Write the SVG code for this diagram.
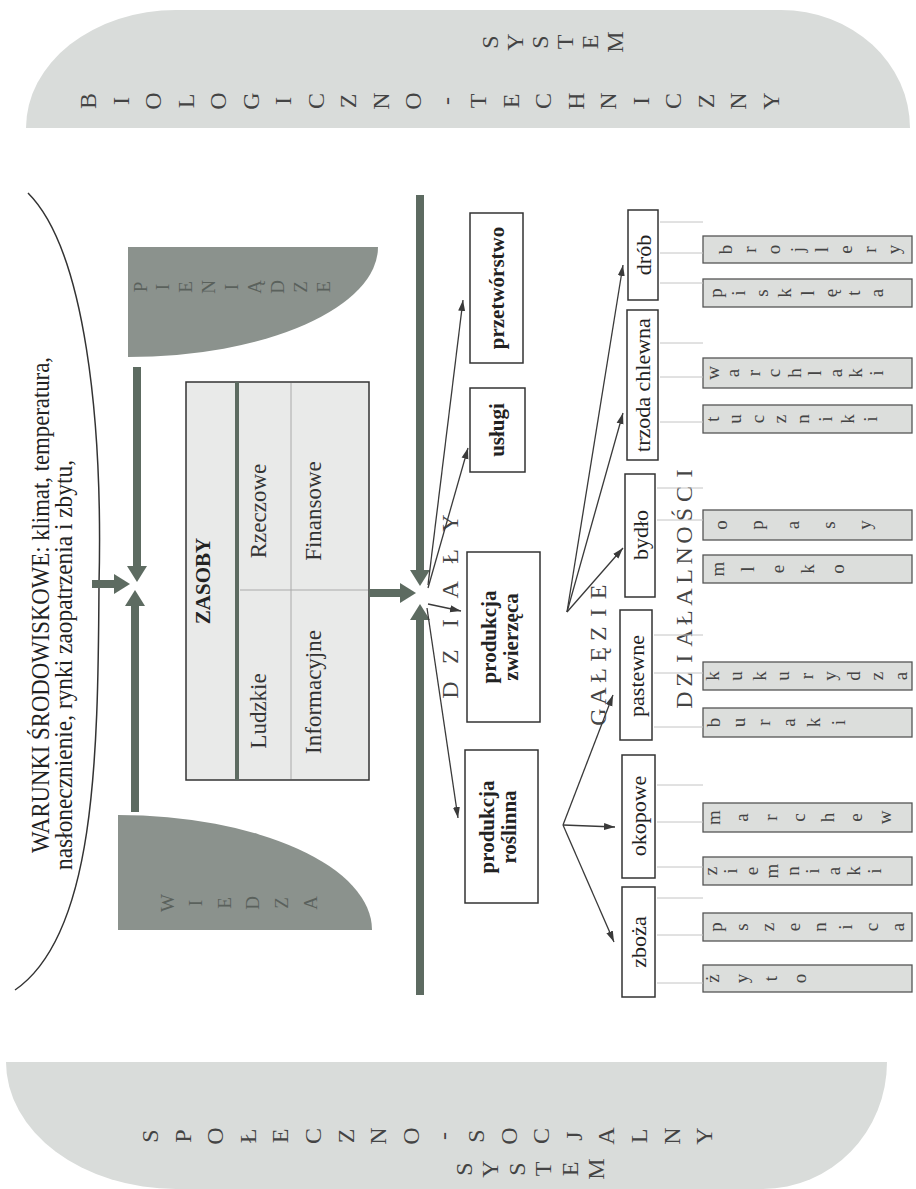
<svg xmlns="http://www.w3.org/2000/svg" width="916" height="1189" viewBox="0 0 916 1189">
<style>
text{font-family:"Liberation Serif","DejaVu Serif",serif;text-anchor:middle;dominant-baseline:central}
.band{fill:#d9dcda}
.dark{fill:#8b928d}
.sys{font-size:24px;fill:#444}
.dk{font-size:19px;fill:#5a615c}
.cap{font-size:24px;fill:#454545}
.prod{font-family:"Liberation Sans","DejaVu Sans",sans-serif;font-size:19px;fill:#444}
.pbox{fill:#dcdedc;stroke:#555;stroke-width:1.3}
.box{fill:#fff;stroke:#333;stroke-width:1.5}
.bl{font-size:21px;font-weight:bold;fill:#222}
.gl{font-size:22px;fill:#222}
.zl{font-size:23px;fill:#333}
.thick{stroke:#5d6b61;stroke-width:8;fill:none;marker-end:url(#th)}
.thin{stroke:#3a3a3a;stroke-width:1.3;fill:none;marker-end:url(#ta)}
.faint{stroke:#c4c4c4;stroke-width:1}
.war{font-size:25px;fill:#222;text-anchor:start;dominant-baseline:auto}
</style>
<defs>
<marker id="th" markerUnits="userSpaceOnUse" markerWidth="16" markerHeight="20" refX="0" refY="10" orient="auto"><path d="M0,0 L16,10 L0,20 Z" fill="#5d6b61"/></marker>
<marker id="ta" markerUnits="userSpaceOnUse" markerWidth="12" markerHeight="8" refX="11" refY="4" orient="auto"><path d="M0,0.5 L11,4 L0,7.5 Z" fill="#3a3a3a"/></marker>
</defs>

<g id="system-bio-tech">
<path class="band" d="M26,128 A150,118 0 0 1 176,10 L781,10 A129,118 0 0 1 910,128 Z"/>
<g class="sys">
<text transform="translate(490,42) rotate(-90)">S</text><text transform="translate(515,42) rotate(-90)">Y</text><text transform="translate(540,42) rotate(-90)">S</text><text transform="translate(565,42) rotate(-90)">T</text><text transform="translate(590,42) rotate(-90)">E</text><text transform="translate(615,42) rotate(-90)">M</text>
<text transform="translate(88,101) rotate(-90)">B</text><text transform="translate(120.5,101) rotate(-90)">I</text><text transform="translate(153,101) rotate(-90)">O</text><text transform="translate(185.5,101) rotate(-90)">L</text><text transform="translate(218,101) rotate(-90)">O</text><text transform="translate(250.5,101) rotate(-90)">G</text><text transform="translate(283,101) rotate(-90)">I</text><text transform="translate(315.5,101) rotate(-90)">C</text><text transform="translate(348,101) rotate(-90)">Z</text><text transform="translate(380.5,101) rotate(-90)">N</text><text transform="translate(413,101) rotate(-90)">O</text><text transform="translate(445.5,101) rotate(-90)">-</text><text transform="translate(478,101) rotate(-90)">T</text><text transform="translate(510.5,101) rotate(-90)">E</text><text transform="translate(543,101) rotate(-90)">C</text><text transform="translate(575.5,101) rotate(-90)">H</text><text transform="translate(608,101) rotate(-90)">N</text><text transform="translate(640.5,101) rotate(-90)">I</text><text transform="translate(673,101) rotate(-90)">C</text><text transform="translate(705.5,101) rotate(-90)">Z</text><text transform="translate(738,101) rotate(-90)">N</text><text transform="translate(770.5,101) rotate(-90)">Y</text>
</g>
</g>

<g id="system-spol-soc">
<path class="band" d="M6,1062 L887,1062 A124,127 0 0 1 763,1189 L176,1189 A170,127 0 0 1 6,1062 Z"/>
<g class="sys">
<text transform="translate(150,1136) rotate(-90)">S</text><text transform="translate(182.6,1136) rotate(-90)">P</text><text transform="translate(215.2,1136) rotate(-90)">O</text><text transform="translate(247.8,1136) rotate(-90)">Ł</text><text transform="translate(280.4,1136) rotate(-90)">E</text><text transform="translate(313,1136) rotate(-90)">C</text><text transform="translate(345.6,1136) rotate(-90)">Z</text><text transform="translate(378.2,1136) rotate(-90)">N</text><text transform="translate(410.8,1136) rotate(-90)">O</text><text transform="translate(443.4,1136) rotate(-90)">-</text><text transform="translate(476,1136) rotate(-90)">S</text><text transform="translate(508.6,1136) rotate(-90)">O</text><text transform="translate(541.2,1136) rotate(-90)">C</text><text transform="translate(573.8,1136) rotate(-90)">J</text><text transform="translate(606.4,1136) rotate(-90)">A</text><text transform="translate(639,1136) rotate(-90)">L</text><text transform="translate(671.6,1136) rotate(-90)">N</text><text transform="translate(704.2,1136) rotate(-90)">Y</text>
<text transform="translate(464,1169) rotate(-90)">S</text><text transform="translate(490.4,1169) rotate(-90)">Y</text><text transform="translate(516.8,1169) rotate(-90)">S</text><text transform="translate(543.2,1169) rotate(-90)">T</text><text transform="translate(569.6,1169) rotate(-90)">E</text><text transform="translate(596,1169) rotate(-90)">M</text>
</g>
</g>

<g id="warunki">
<path d="M28,193 C85,250 103,420 99,585 C98,760 95,935 15,990" fill="none" stroke="#333" stroke-width="1.5"/>
<text class="war" transform="translate(49,853) rotate(-90)" textLength="496" lengthAdjust="spacingAndGlyphs">WARUNKI ŚRODOWISKOWE: klimat, temperatura,</text>
<text class="war" transform="translate(72,870) rotate(-90)" textLength="410" lengthAdjust="spacingAndGlyphs">nasłonecznienie, rynki zaopatrzenia i zbytu,</text>
</g>

<g id="pieniadze">
<path class="dark" d="M128,247 L378,247 A250,110 0 0 1 128,357 Z"/>
<g class="dk">
<text transform="translate(140,287) rotate(-90)">P</text><text transform="translate(162.9,287) rotate(-90)">I</text><text transform="translate(185.8,287) rotate(-90)">E</text><text transform="translate(208.7,287) rotate(-90)">N</text><text transform="translate(231.6,287) rotate(-90)">I</text><text transform="translate(254.5,287) rotate(-90)">Ą</text><text transform="translate(277.4,287) rotate(-90)">D</text><text transform="translate(300.3,287) rotate(-90)">Z</text><text transform="translate(323.2,287) rotate(-90)">E</text>
</g>
</g>

<g id="wiedza">
<path class="dark" d="M118,815 A254,115 0 0 1 372,930 L118,930 Z"/>
<g class="dk">
<text transform="translate(167,903) rotate(-90)">W</text><text transform="translate(195.6,903) rotate(-90)">I</text><text transform="translate(224.2,903) rotate(-90)">E</text><text transform="translate(252.8,903) rotate(-90)">D</text><text transform="translate(281.4,903) rotate(-90)">Z</text><text transform="translate(310,903) rotate(-90)">A</text>
</g>
</g>

<g id="zasoby">
<rect x="186" y="382" width="183" height="398" fill="#e9eae9" stroke="#333" stroke-width="1.5"/>
<line x1="237" y1="382" x2="237" y2="780" stroke="#5d6b61" stroke-width="4"/>
<line x1="291" y1="383" x2="291" y2="779" stroke="#aaa" stroke-width="1"/>
<line x1="240" y1="590" x2="368" y2="590" stroke="#aaa" stroke-width="1"/>
<text class="bl" font-size="22" transform="translate(203,581) rotate(-90)">ZASOBY</text>
<text class="zl" transform="translate(258,511) rotate(-90)">Rzeczowe</text>
<text class="zl" transform="translate(313,511) rotate(-90)">Finansowe</text>
<text class="zl" transform="translate(258,711) rotate(-90)">Ludzkie</text>
<text class="zl" transform="translate(313,692) rotate(-90)">Informacyjne</text>
</g>

<g id="dzialy">
<g class="cap">
<text transform="translate(450,690) rotate(-90)">D</text><text transform="translate(450,656.6) rotate(-90)">Z</text><text transform="translate(450,623.2) rotate(-90)">I</text><text transform="translate(450,589.8) rotate(-90)">A</text><text transform="translate(450,556.4) rotate(-90)">Ł</text><text transform="translate(450,523) rotate(-90)">Y</text>
</g>
</g>

<g id="przetworstwo"><rect class="box" x="470" y="213" width="53" height="150"/><text class="bl" font-size="20" transform="translate(497,288) rotate(-90)">przetwórstwo</text></g>
<g id="uslugi"><rect class="box" x="470" y="388" width="55" height="84"/><text class="bl" font-size="20" transform="translate(497,430) rotate(-90)">usługi</text></g>
<g id="produkcja-zwierzeca"><rect class="box" x="467" y="552" width="73" height="170"/><text class="bl" transform="translate(489,637) rotate(-90)">produkcja</text><text class="bl" transform="translate(511,637) rotate(-90)">zwierzęca</text></g>
<g id="produkcja-roslinna"><rect class="box" x="465" y="750" width="73" height="153"/><text class="bl" transform="translate(487,827) rotate(-90)">produkcja</text><text class="bl" transform="translate(509,827) rotate(-90)">roślinna</text></g>

<g id="galezie">
<g class="cap">
<text transform="translate(598,717) rotate(-90)">G</text><text transform="translate(598,696.2) rotate(-90)">A</text><text transform="translate(598,675.3) rotate(-90)">Ł</text><text transform="translate(598,654.5) rotate(-90)">Ę</text><text transform="translate(598,633.7) rotate(-90)">Z</text><text transform="translate(598,612.8) rotate(-90)">I</text><text transform="translate(598,592) rotate(-90)">E</text>
</g>
</g>
<g id="drob"><rect class="box" x="628" y="210" width="30" height="90"/><text class="gl" transform="translate(643,255) rotate(-90)">drób</text></g>
<g id="trzoda"><rect class="box" x="627" y="310" width="31" height="150"/><text class="gl" transform="translate(642,385) rotate(-90)">trzoda chlewna</text></g>
<g id="bydlo"><rect class="box" x="625" y="474" width="30" height="123"/><text class="gl" transform="translate(640,535) rotate(-90)">bydło</text></g>
<g id="pastewne"><rect class="box" x="620" y="610" width="32" height="130"/><text class="gl" transform="translate(636,676) rotate(-90)">pastewne</text></g>
<g id="okopowe"><rect class="box" x="622" y="755" width="33" height="123"/><text class="gl" transform="translate(638,816) rotate(-90)">okopowe</text></g>
<g id="zboza"><rect class="box" x="622" y="887" width="33" height="110"/><text class="gl" transform="translate(638,942) rotate(-90)">zboża</text></g>

<g id="dzialalnosci">
<g class="cap">
<text transform="translate(684,700) rotate(-90)">D</text><text transform="translate(684,679.4) rotate(-90)">Z</text><text transform="translate(684,658.8) rotate(-90)">I</text><text transform="translate(684,638.2) rotate(-90)">A</text><text transform="translate(684,617.6) rotate(-90)">Ł</text><text transform="translate(684,597) rotate(-90)">A</text><text transform="translate(684,576.4) rotate(-90)">L</text><text transform="translate(684,555.8) rotate(-90)">N</text><text transform="translate(684,535.2) rotate(-90)">O</text><text transform="translate(684,514.6) rotate(-90)">Ś</text><text transform="translate(684,494) rotate(-90)">C</text><text transform="translate(684,473.4) rotate(-90)">I</text>
</g>
</g>

<g id="brojlery"><rect class="pbox" x="703" y="236" width="209" height="27"/><g class="prod"><text transform="translate(725,249.5) rotate(-90)">b</text><text transform="translate(749,249.5) rotate(-90)">r</text><text transform="translate(773,249.5) rotate(-90)">o</text><text transform="translate(797,249.5) rotate(-90)">j</text><text transform="translate(821,249.5) rotate(-90)">l</text><text transform="translate(845,249.5) rotate(-90)">e</text><text transform="translate(869,249.5) rotate(-90)">r</text><text transform="translate(893,249.5) rotate(-90)">y</text></g></g>
<g id="piskleta"><rect class="pbox" x="703" y="279" width="209" height="28"/><g class="prod"><text transform="translate(715,293) rotate(-90)">p</text><text transform="translate(738,293) rotate(-90)">i</text><text transform="translate(761,293) rotate(-90)">s</text><text transform="translate(784,293) rotate(-90)">k</text><text transform="translate(807,293) rotate(-90)">l</text><text transform="translate(830,293) rotate(-90)">ę</text><text transform="translate(853,293) rotate(-90)">t</text><text transform="translate(876,293) rotate(-90)">a</text></g></g>
<g id="warchlaki"><rect class="pbox" x="703" y="358" width="209" height="30"/><g class="prod"><text transform="translate(712,373) rotate(-90)">w</text><text transform="translate(732.5,373) rotate(-90)">a</text><text transform="translate(753,373) rotate(-90)">r</text><text transform="translate(773.5,373) rotate(-90)">c</text><text transform="translate(794,373) rotate(-90)">h</text><text transform="translate(814.5,373) rotate(-90)">l</text><text transform="translate(835,373) rotate(-90)">a</text><text transform="translate(855.5,373) rotate(-90)">k</text><text transform="translate(876,373) rotate(-90)">i</text></g></g>
<g id="tuczniki"><rect class="pbox" x="703" y="405" width="209" height="28"/><g class="prod"><text transform="translate(712,419) rotate(-90)">t</text><text transform="translate(734.6,419) rotate(-90)">u</text><text transform="translate(757.2,419) rotate(-90)">c</text><text transform="translate(779.8,419) rotate(-90)">z</text><text transform="translate(802.4,419) rotate(-90)">n</text><text transform="translate(825,419) rotate(-90)">i</text><text transform="translate(847.6,419) rotate(-90)">k</text><text transform="translate(870.2,419) rotate(-90)">i</text></g></g>
<g id="opasy"><rect class="pbox" x="703" y="510" width="209" height="30"/><g class="prod"><text transform="translate(720,525) rotate(-90)">o</text><text transform="translate(756,525) rotate(-90)">p</text><text transform="translate(792,525) rotate(-90)">a</text><text transform="translate(828,525) rotate(-90)">s</text><text transform="translate(864,525) rotate(-90)">y</text></g></g>
<g id="mleko"><rect class="pbox" x="703" y="555" width="209" height="28"/><g class="prod"><text transform="translate(717,569) rotate(-90)">m</text><text transform="translate(747,569) rotate(-90)">l</text><text transform="translate(777,569) rotate(-90)">e</text><text transform="translate(807,569) rotate(-90)">k</text><text transform="translate(837,569) rotate(-90)">o</text></g></g>
<g id="kukurydza"><rect class="pbox" x="703" y="662" width="209" height="28"/><g class="prod"><text transform="translate(712,676) rotate(-90)">k</text><text transform="translate(735.5,676) rotate(-90)">u</text><text transform="translate(759,676) rotate(-90)">k</text><text transform="translate(782.5,676) rotate(-90)">u</text><text transform="translate(806,676) rotate(-90)">r</text><text transform="translate(829.5,676) rotate(-90)">y</text><text transform="translate(853,676) rotate(-90)">d</text><text transform="translate(876.5,676) rotate(-90)">z</text><text transform="translate(900,676) rotate(-90)">a</text></g></g>
<g id="buraki"><rect class="pbox" x="703" y="708" width="209" height="29"/><g class="prod"><text transform="translate(713,722.5) rotate(-90)">b</text><text transform="translate(738,722.5) rotate(-90)">u</text><text transform="translate(763,722.5) rotate(-90)">r</text><text transform="translate(788,722.5) rotate(-90)">a</text><text transform="translate(813,722.5) rotate(-90)">k</text><text transform="translate(838,722.5) rotate(-90)">i</text></g></g>
<g id="marchew"><rect class="pbox" x="703" y="803" width="209" height="29"/><g class="prod"><text transform="translate(713,817.5) rotate(-90)">m</text><text transform="translate(741.5,817.5) rotate(-90)">a</text><text transform="translate(770,817.5) rotate(-90)">r</text><text transform="translate(798.5,817.5) rotate(-90)">c</text><text transform="translate(827,817.5) rotate(-90)">h</text><text transform="translate(855.5,817.5) rotate(-90)">e</text><text transform="translate(884,817.5) rotate(-90)">w</text></g></g>
<g id="ziemniaki"><rect class="pbox" x="703" y="857" width="209" height="28"/><g class="prod"><text transform="translate(710,871) rotate(-90)">z</text><text transform="translate(730.5,871) rotate(-90)">i</text><text transform="translate(751,871) rotate(-90)">e</text><text transform="translate(771.5,871) rotate(-90)">m</text><text transform="translate(792,871) rotate(-90)">n</text><text transform="translate(812.5,871) rotate(-90)">i</text><text transform="translate(833,871) rotate(-90)">a</text><text transform="translate(853.5,871) rotate(-90)">k</text><text transform="translate(874,871) rotate(-90)">i</text></g></g>
<g id="pszenica"><rect class="pbox" x="703" y="913" width="209" height="28"/><g class="prod"><text transform="translate(715,927) rotate(-90)">p</text><text transform="translate(741,927) rotate(-90)">s</text><text transform="translate(767,927) rotate(-90)">z</text><text transform="translate(793,927) rotate(-90)">e</text><text transform="translate(819,927) rotate(-90)">n</text><text transform="translate(845,927) rotate(-90)">i</text><text transform="translate(871,927) rotate(-90)">c</text><text transform="translate(897,927) rotate(-90)">a</text></g></g>
<g id="zyto"><rect class="pbox" x="703" y="965" width="209" height="27"/><g class="prod"><text transform="translate(712,978.5) rotate(-90)">ż</text><text transform="translate(741,978.5) rotate(-90)">y</text><text transform="translate(770,978.5) rotate(-90)">t</text><text transform="translate(799,978.5) rotate(-90)">o</text></g></g>

<g id="connectors">
<path class="thick" d="M137,367 L137,566"/>
<path class="thick" d="M135,812 L135,606"/>
<path class="thick" d="M92,584 L114,584"/>
<path class="thick" d="M420,195 L420,570"/>
<path class="thick" d="M420,995 L420,620"/>
<path class="thick" d="M369,593 L400,593"/>
<path class="thin" d="M428,585 L463,300"/>
<path class="thin" d="M428,588 L468,448"/>
<path class="thin" d="M428,604 L461,611"/>
<path class="thin" d="M427,608 L458,818"/>
<path class="thin" d="M567,612 L623,265"/>
<path class="thin" d="M567,612 L623,413"/>
<path class="thin" d="M567,612 L623,548"/>
<path class="thin" d="M563,825 L613,695"/>
<path class="thin" d="M563,825 L615,827"/>
<path class="thin" d="M563,825 L614,942"/>
<g class="faint">
<line x1="660" y1="222" x2="703" y2="222"/><line x1="660" y1="253" x2="703" y2="253"/><line x1="660" y1="283" x2="703" y2="283"/>
<line x1="660" y1="343" x2="703" y2="343"/><line x1="660" y1="377" x2="703" y2="377"/><line x1="660" y1="422" x2="703" y2="422"/>
<line x1="657" y1="488" x2="703" y2="488"/><line x1="657" y1="520" x2="703" y2="520"/>
<line x1="654" y1="635" x2="703" y2="635"/><line x1="654" y1="673" x2="703" y2="673"/><line x1="654" y1="727" x2="703" y2="727"/>
<line x1="657" y1="785" x2="703" y2="785"/><line x1="657" y1="822" x2="703" y2="822"/><line x1="657" y1="867" x2="703" y2="867"/>
<line x1="657" y1="898" x2="703" y2="898"/><line x1="657" y1="935" x2="703" y2="935"/><line x1="657" y1="983" x2="703" y2="983"/>
</g>
</g>
</svg>
